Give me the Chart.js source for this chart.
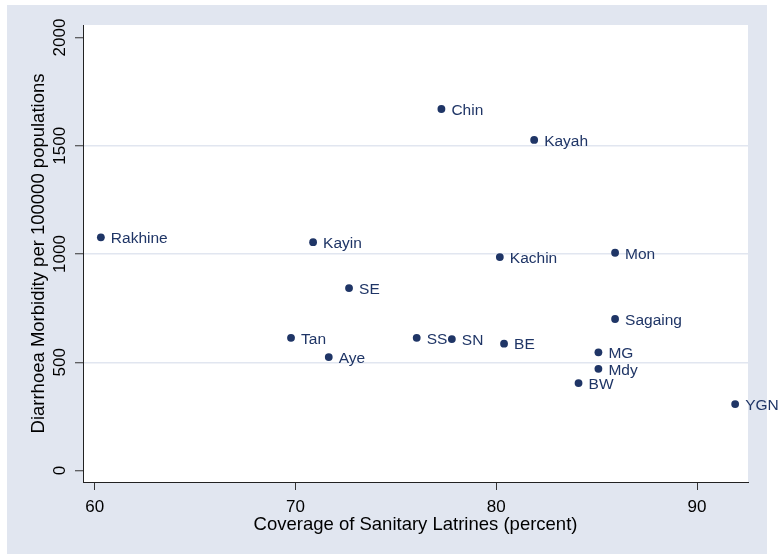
<!DOCTYPE html>
<html>
<head>
<meta charset="utf-8">
<script src="https://cdn.jsdelivr.net/npm/chart.js@4/dist/chart.umd.min.js"></script>
<style>
  html, body { margin: 0; padding: 0; background: #ffffff; }
  #wrap { width: 779px; height: 554px; }
</style>
</head>
<body>
<div id="wrap"><canvas id="myChart" width="779" height="554"></canvas></div>
<script>
// regions (labels) and values
var regions = ['Chin', 'Kayah', 'Rakhine', 'Kayin', 'Kachin', 'Mon', 'SE', 'Sagaing', 'Tan',
               'SS', 'SN', 'BE', 'Aye', 'MG', 'Mdy', 'BW', 'YGN'];
var latrines = [77.27, 81.89, 60.31, 70.88, 80.18, 85.92, 72.67, 85.92, 69.78,
                76.04, 77.79, 80.39, 71.66, 85.09, 85.09, 84.10, 91.90];
var morbidity = [1670, 1527, 1077, 1055, 986, 1006, 843, 700, 613,
                 613, 607, 586, 524, 546, 470, 404, 307];
var xTicks = [60, 70, 80, 90];
var yTicks = [0, 500, 1000, 1500, 2000];

var xTitle = 'Coverage of Sanitary Latrines (percent)';
var yTitle = 'Diarrhoea Morbidity per 100000 populations';

var navy = '#1f3566';
var bluegray = '#e1e6f0';
var fontName = '"Liberation Sans", Arial, Helvetica, sans-serif';

var points = latrines.map(function (v, i) { return { x: v, y: morbidity[i] }; });

// background, labels next to the dots, y tick labels and axis titles
var stataLook = {
  id: 'stataLook',
  beforeDraw: function (chart) {
    var c = chart.ctx, a = chart.chartArea;
    c.save();
    c.fillStyle = '#ffffff';
    c.fillRect(0, 0, chart.width, chart.height);
    c.fillStyle = bluegray;
    c.fillRect(7, 5, 760, 549);
    c.fillStyle = '#ffffff';
    c.fillRect(a.left, a.top, a.right - a.left, a.bottom - a.top);
    c.restore();
  },
  afterDatasetsDraw: function (chart) {
    var c = chart.ctx;
    var meta = chart.getDatasetMeta(0);
    c.save();
    c.fillStyle = navy;
    c.font = '15.5px ' + fontName;
    c.textAlign = 'left';
    c.textBaseline = 'middle';
    meta.data.forEach(function (pt, i) {
      c.fillText(regions[i], pt.x + 10, pt.y + 1.5);
    });
    c.restore();
  },
  afterDraw: function (chart) {
    var c = chart.ctx, a = chart.chartArea;
    var ys = chart.scales.y;
    c.save();
    c.fillStyle = '#000000';
    c.textAlign = 'center';
    c.textBaseline = 'middle';
    c.font = '17px ' + fontName;
    yTicks.forEach(function (v) {
      c.save();
      c.translate(60, ys.getPixelForValue(v));
      c.rotate(-Math.PI / 2);
      c.fillText(String(v), 0, 0);
      c.restore();
    });
    c.font = '18.5px ' + fontName;
    c.fillText(xTitle, (a.left + a.right) / 2, 525);
    c.save();
    c.translate(39, (a.top + a.bottom) / 2);
    c.rotate(-Math.PI / 2);
    c.fillText(yTitle, 0, 0);
    c.restore();
    c.restore();
  }
};

var ctx = document.getElementById('myChart').getContext('2d');
var myChart = new Chart(ctx, {
  type: 'scatter',
  data: {
    datasets: [{
      label: 'morbidity',
      data: points,
      backgroundColor: navy,
      borderWidth: 0,
      pointRadius: 3.9,
      pointHoverRadius: 3.9
    }]
  },
  options: {
    responsive: false,
    animation: false,
    events: [],
    layout: { padding: { left: 0, right: 31, top: 25, bottom: 0 } },
    plugins: { legend: { display: false }, tooltip: { enabled: false } },
    scales: {
      x: {
        type: 'linear',
        min: 59.42,
        max: 92.54,
        afterFit: function (s) { s.height = 72; },
        afterBuildTicks: function (s) { s.ticks = xTicks.map(function (v) { return { value: v }; }); },
        grid: { drawOnChartArea: false, drawTicks: true, tickLength: 8, tickColor: '#333333', tickWidth: 1 },
        border: { display: true, color: '#222222', width: 1 },
        ticks: { color: '#000000', font: { family: fontName, size: 17 }, padding: 7.5, maxRotation: 0, autoSkip: false }
      },
      y: {
        type: 'linear',
        min: -53,
        max: 2058,
        afterFit: function (s) { s.width = 83; },
        afterBuildTicks: function (s) { s.ticks = yTicks.map(function (v) { return { value: v }; }); },
        grid: {
          color: function (c) {
            return (c.tick && (c.tick.value === 0 || c.tick.value === 2000)) ? 'rgba(0,0,0,0)' : bluegray;
          },
          lineWidth: 1.5,
          drawTicks: true,
          tickLength: 8,
          tickColor: '#333333',
          tickWidth: 1
        },
        border: { display: true, color: '#222222', width: 1 },
        ticks: { display: false }
      }
    }
  },
  plugins: [stataLook]
});
</script>
</body>
</html>
